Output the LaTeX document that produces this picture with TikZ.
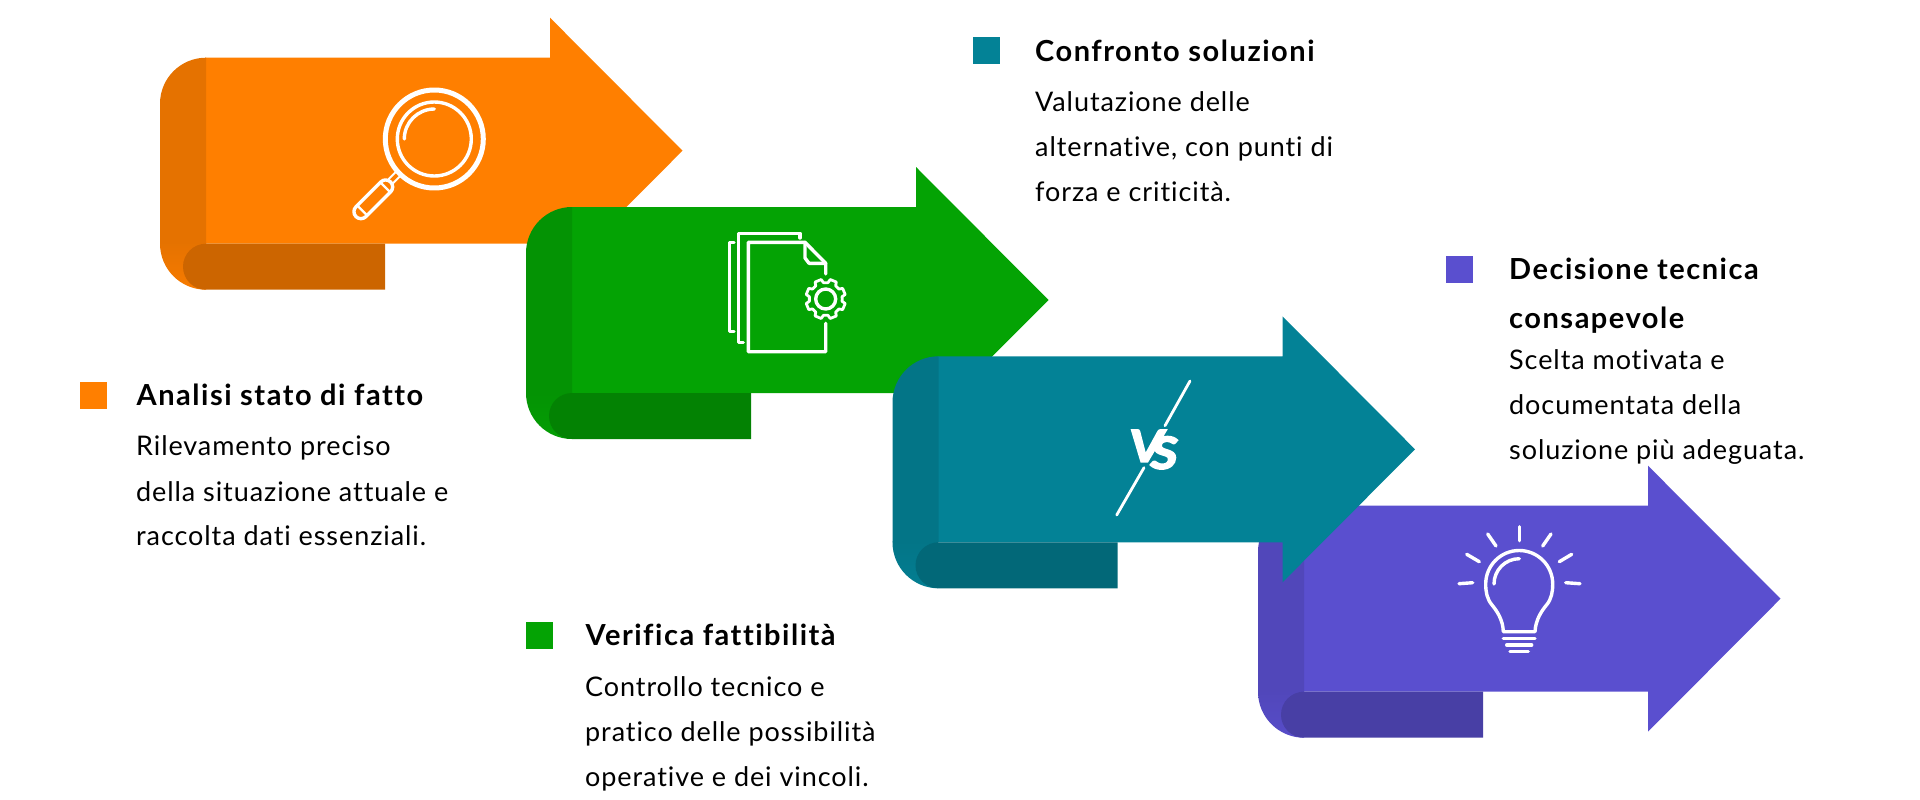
\documentclass[tikz,border=0pt]{standalone}
\usepackage{fontspec}
\usepackage{xcolor}
\setmainfont{Lato}[LetterSpace=3.4, Ligatures=NoCommon]
\newfontfamily\titlefont{Lato}[LetterSpace=5.2, Ligatures=NoCommon]
\newfontfamily\vsfont{Lato}[FakeBold=4, FakeStretch=1.2]
\definecolor{custom-orange}{RGB}{255, 127, 0}
\definecolor{custom-green}{RGB}{4, 163, 4}
\definecolor{custom-teal}{RGB}{3, 130, 150}
\definecolor{custom-purple}{RGB}{90, 79, 207}
\tikzset{
    title/.style={anchor=base west, inner sep=0pt, font=\fontsize{29}{29}\titlefont\bfseries},
    body/.style={anchor=base west, inner sep=0pt, font=\fontsize{27}{27}\selectfont},
    tag/.style={anchor=north west, inner sep=0pt, minimum size=27pt},
    icon/.style={draw=white, line width=3.4pt, line cap=round, line join=round},
    vsletter/.style={inner sep=0pt, text=white, font=\fontsize{44}{44}\vsfont\bfseries\itshape}
}
% one arrow, #1 and #2 are its top left corner
\newcommand{\foldarrow}[3]{
    \begin{scope}[shift={(#1, #2)}]
        \fill[#3] (45, 0) -- (390, 0) -- (390, -40) -- (522.5, 93) -- (390, 226) -- (390, 186) -- (45, 186) -- cycle;
        \shade[top color=#3!90!black, bottom color=#3!97!black] (0, 186) arc (180:90:46) -- (46, 185) -- (0, 185) -- cycle;
        \fill[#3!90!black] (46, 0) arc (270:180:46) -- (0, 186) -- (46, 186) -- cycle;
        \fill[#3!80!black] (46, 186) arc (270:90:23) -- (225, 232) -- (225, 186) -- cycle;
    \end{scope}
}
\begin{document}
\begin{tikzpicture}[x=1pt, y=-1pt]
    \useasboundingbox (0, 0) rectangle (1920, 800);
    \foldarrow{160}{57.7}{custom-orange}
    \foldarrow{526}{207}{custom-green}
    \foldarrow{1258}{505.7}{custom-purple}
    \foldarrow{892.5}{356.3}{custom-teal}
    % magnifier
    \draw[icon, line width=5pt] (434.3, 139) circle (49);
    \draw[icon] (434.3, 139) circle (37);
    \draw[icon] (404.3, 139) arc (180:270:30);
    \draw[icon, line width=2pt] (388.9, 178.9) -- (396.9, 170.9);
    \draw[icon, line width=2pt] (393.1, 183.1) -- (401.1, 175.1);
    \begin{scope}[shift={(373.3, 199.3)}, rotate=45]
        \draw[icon, rounded corners=7pt] (-24.5, -7) rectangle (24.5, 7);
        \draw[icon, line width=2.2pt] (-15.7, -7) -- (-15.7, 7);
        \draw[icon, line width=2.2pt] (17, -7) -- (17, 7);
    \end{scope}
    % documents
    \draw[icon] (825.7, 274) -- (825.7, 263.3) -- (805, 242.3) -- (748.3, 242.3) -- (748.3, 351.7) -- (825.7, 351.7) -- (825.7, 323.3);
    \draw[icon] (805, 242.3) -- (805, 258) -- (809, 263.3) -- (825.7, 263.3);
    \draw[icon] (800, 238) -- (800, 233.3) -- (738.3, 233.3) -- (738.3, 342.7) -- (743.3, 342.7);
    \draw[icon] (734, 242.3) -- (729.3, 242.3) -- (729.3, 331.7) -- (734, 331.7);
    \draw[icon] (825.7, 299) circle (10);
    \draw[icon, line width=2.8pt, shift={(825.7, 299)}] (0:16.5)
        \foreach \a in {0, 45, ..., 315} {
            -- (\a+8:16.5) -- (\a+13:20) -- (\a+32:20) -- (\a+37:16.5)
        } -- cycle;
    % versus
    \draw[icon, line width=2.8pt] (1190, 381) -- (1165, 425.7);
    \draw[icon, line width=2.8pt] (1144, 467.7) -- (1116.7, 515);
    \node[vsletter, anchor=base west] (versus) at (1129, 461.7) {V\kern-13pt\raisebox{-7pt}{S}};
    % bulb
    \draw[icon] (1503.3, 631.7) .. controls (1503, 620) and (1497, 611) .. (1492, 605)
        .. controls (1487, 599) and (1485.7, 592) .. (1485.7, 584) arc (180:360:33.5)
        .. controls (1552.7, 592) and (1551.5, 599) .. (1546.5, 605)
        .. controls (1541.5, 611) and (1535.5, 620) .. (1535, 631.7) -- cycle;
    \draw[icon] (1494, 584) arc (180:270:25.3);
    \draw[icon] (1503.3, 638.3) -- (1535, 638.3);
    \draw[icon] (1506.7, 645) -- (1531.7, 645);
    \draw[icon] (1510, 651.7) -- (1528.3, 651.7);
    \draw[icon] (1519.3, 526.7) -- (1519.3, 540.7);
    \draw[icon] (1487.7, 534) -- (1496, 546);
    \draw[icon] (1466.7, 554.3) -- (1479.3, 561.7);
    \draw[icon] (1459, 583.7) -- (1472.7, 582.7);
    \draw[icon] (1551, 534) -- (1542.7, 546);
    \draw[icon] (1571.7, 554.3) -- (1559.3, 561.7);
    \draw[icon] (1580, 583.7) -- (1565.7, 582.7);
    % legends
    \node[tag, fill=custom-orange] (tagone) at (80, 382) {};
    \node[title] (titleone) at (136.5, 405.7) {Analisi stato di fatto};
    \node[body] (bodyonea) at (136, 455.7) {Rilevamento preciso};
    \node[body] (bodyoneb) at (136, 501) {della situazione attuale e};
    \node[body] (bodyonec) at (136, 545.7) {raccolta dati essenziali.};
    \node[tag, fill=custom-green] (tagtwo) at (526, 622) {};
    \node[title] (titletwo) at (585.5, 645.7) {Verifica fattibilità};
    \node[body] (bodytwoa) at (585, 696) {Controllo tecnico e};
    \node[body] (bodytwob) at (585, 741) {pratico delle possibilità};
    \node[body] (bodytwoc) at (585, 786) {operative e dei vincoli.};
    \node[tag, fill=custom-teal] (tagthree) at (972.7, 37.3) {};
    \node[title] (titlethree) at (1035, 61.7) {Confronto soluzioni};
    \node[body] (bodythreea) at (1035, 111.7) {Valutazione delle};
    \node[body] (bodythreeb) at (1035, 156.7) {alternative, con punti di};
    \node[body] (bodythreec) at (1035, 201.7) {forza e criticità.};
    \node[tag, fill=custom-purple] (tagfour) at (1445.3, 256) {};
    \node[title] (titlefoura) at (1509, 279.3) {Decisione tecnica};
    \node[title] (titlefourb) at (1509, 328.3) {consapevole};
    \node[body] (bodyfoura) at (1509, 369) {Scelta motivata e};
    \node[body] (bodyfourb) at (1509, 414) {documentata della};
    \node[body] (bodyfourc) at (1509, 459) {soluzione più adeguata.};
\end{tikzpicture}
\end{document}
